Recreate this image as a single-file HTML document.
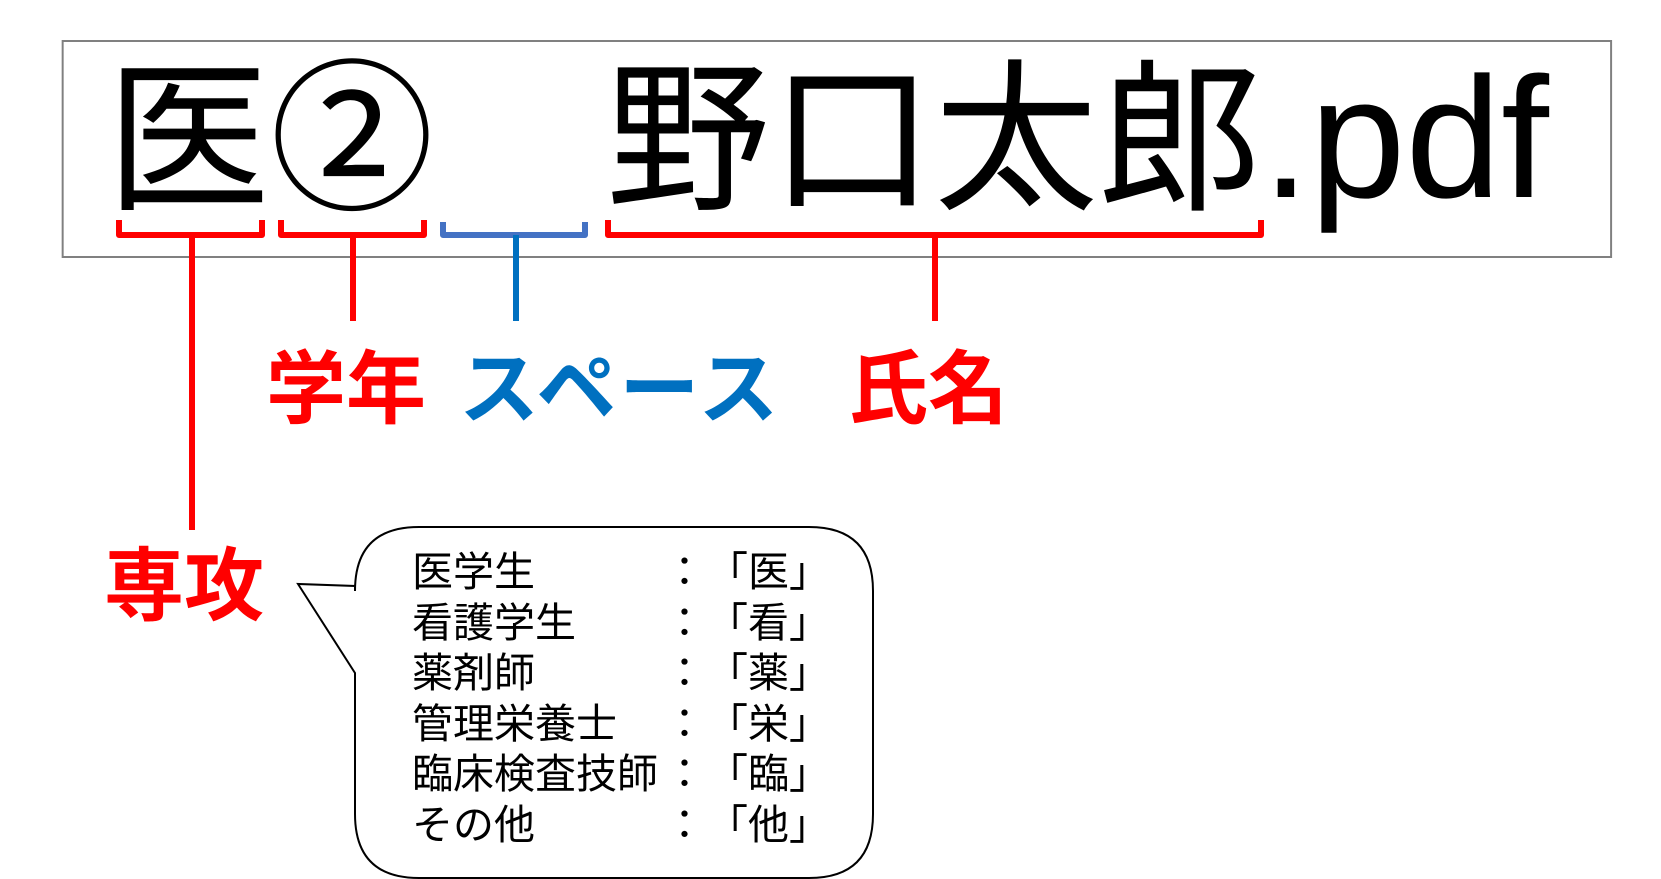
<!DOCTYPE html>
<html><head><meta charset="utf-8"><style>
html,body{margin:0;padding:0;background:#fff;}
svg{display:block;}
</style></head><body>
<svg width="1661" height="879" viewBox="0 0 1661 879" xmlns="http://www.w3.org/2000/svg">
<rect x="63" y="41" width="1557" height="216" fill="#fff" stroke="#808080" stroke-width="2" transform="scale(0.9945,1)"/>
<text x="106" y="197" font-family="'Liberation Sans','Noto Sans CJK JP',sans-serif" font-size="164" fill="#000">医②</text>
<text x="606" y="197" font-family="'Liberation Sans','Noto Sans CJK JP',sans-serif" font-size="164" fill="#000">野口太郎<tspan font-family="'Liberation Sans',sans-serif" font-size="172">.pdf</tspan></text>
<g fill="none" stroke-width="6" stroke-linejoin="round">
<path d="M119,220 V235 H262 V220" stroke="#ff0000"/>
<path d="M281,220 V235 H424 V220" stroke="#ff0000"/>
<path d="M443,222 V235 H585 V222" stroke="#4472c4"/>
<path d="M608,220 V235 H1261 V220" stroke="#ff0000"/>
</g>
<g stroke-width="6">
<line x1="192" y1="235" x2="192" y2="530" stroke="#ff0000"/>
<line x1="353" y1="235" x2="353" y2="321" stroke="#ff0000"/>
<line x1="516" y1="235" x2="516" y2="321" stroke="#0070c0"/>
<line x1="935" y1="235" x2="935" y2="321" stroke="#ff0000"/>
</g>
<g font-family="'Liberation Sans','Noto Sans CJK JP',sans-serif" font-weight="bold" font-size="80">
<text x="266" y="417" fill="#ff0000">学年</text>
<text x="459" y="417" fill="#0070c0" letter-spacing="3">スペース</text>
<text x="848" y="417" fill="#ff0000">氏名</text>
<text x="104" y="614" fill="#ff0000">専攻</text>
</g>
<path d="M419,527 H809 Q873,527 873,591 V814 Q873,878 809,878 H419 Q355,878 355,814 V673 L298,584 L355,586 V591 Q355,527 419,527 Z" fill="#fff" stroke="#000" stroke-width="2"/>
<g font-family="'Noto Sans CJK JP',sans-serif" font-size="41" fill="#000">
<text x="412" y="586">医学生</text>
<text x="412" y="637">看護学生</text>
<text x="412" y="687">薬剤師</text>
<text x="412" y="738">管理栄養士</text>
<text x="412" y="788">臨床検査技師</text>
<text x="412" y="839">その他</text>
<text x="664" y="586">：</text>
<text x="664" y="637">：</text>
<text x="664" y="687">：</text>
<text x="664" y="738">：</text>
<text x="664" y="788">：</text>
<text x="664" y="839">：</text>
<text x="707" y="586">「医」</text>
<text x="707" y="637">「看」</text>
<text x="707" y="687">「薬」</text>
<text x="707" y="738">「栄」</text>
<text x="707" y="788">「臨」</text>
<text x="707" y="839">「他」</text>
</g>
</svg>
</body></html>
